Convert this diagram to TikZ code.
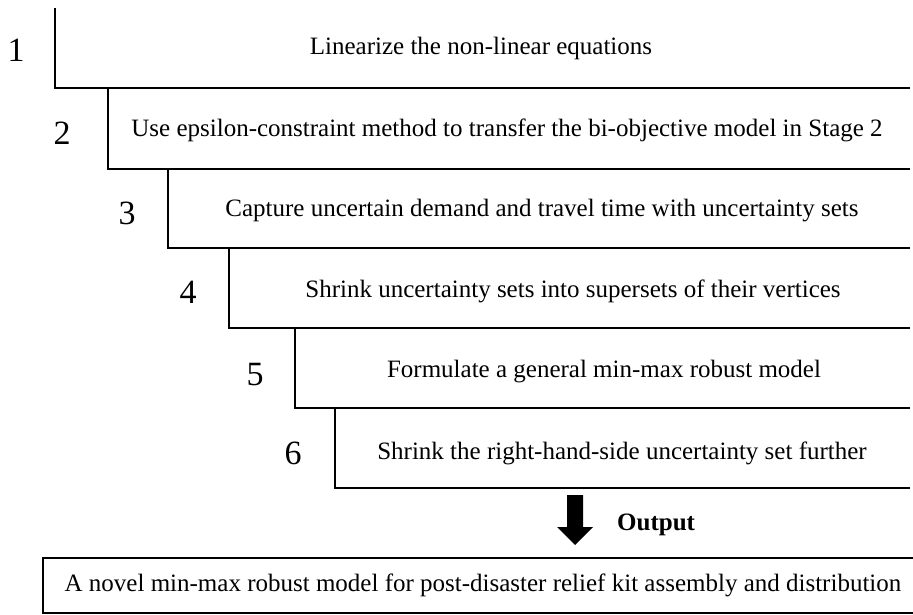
\documentclass[tikz,border=0pt]{standalone}
\usepackage{fontspec}
\setmainfont{Liberation Serif}
\begin{document}
\begin{tikzpicture}[x=1pt,y=-1pt,
  stair/.style={line width=2.6pt, line join=miter, line cap=butt},
  steptext/.style={font=\fontsize{25}{30}\selectfont, inner sep=0pt, anchor=center},
  stepnum/.style={font=\fontsize{34}{40}\selectfont, inner sep=0pt, anchor=center},
  outlabel/.style={font=\fontsize{25}{30}\selectfont\bfseries, inner sep=0pt, anchor=west}]
\useasboundingbox (0,0) rectangle (913,615);
% stair corners
\coordinate (t1) at (55,8);
\coordinate (c1) at (55,88);    \coordinate (e1) at (910,88);
\coordinate (t2) at (108,88);   \coordinate (c2) at (108,169);  \coordinate (e2) at (910,169);
\coordinate (t3) at (168,169);  \coordinate (c3) at (168,248);  \coordinate (e3) at (910,248);
\coordinate (t4) at (229,248);  \coordinate (c4) at (229,328);  \coordinate (e4) at (910,328);
\coordinate (t5) at (295,328);  \coordinate (c5) at (295,408);  \coordinate (e5) at (910,408);
\coordinate (t6) at (335,408);  \coordinate (c6) at (335,488);  \coordinate (e6) at (910,488);
\foreach \i in {1,...,6} {\draw[stair] (t\i) -- (c\i) -- (e\i);}
% step numbers
\node[stepnum] (n1) at (16,50) {1};
\node[stepnum] (n2) at (62,133) {2};
\node[stepnum] (n3) at (127,213) {3};
\node[stepnum] (n4) at (188,292) {4};
\node[stepnum] (n5) at (255,375) {5};
\node[stepnum] (n6) at (293,453) {6};
% step texts
\node[steptext] (s1) at (481,48) {Linearize the non-linear equations};
\node[steptext] (s2) at (507,130) {Use epsilon-constraint method to transfer the bi-objective model in Stage 2};
\node[steptext] (s3) at (542,211) {Capture uncertain demand and travel time with uncertainty sets};
\node[steptext] (s4) at (573,291) {Shrink uncertainty sets into supersets of their vertices};
\node[steptext] (s5) at (604,372) {Formulate a general min-max robust model};
\node[steptext] (s6) at (622,453) {Shrink the right-hand-side uncertainty set further};
% output arrow
\fill (567,495) -- (583,495) -- (583,527) -- (593,527) -- (575,545) -- (557,527) -- (567,527) -- cycle;
\node[outlabel] (out) at (617,525) {Output};
% final box
\coordinate (b1) at (915,558); \coordinate (b2) at (43,558);
\coordinate (b3) at (43,613);  \coordinate (b4) at (915,613);
\draw[stair] (b1) -- (b2) -- (b3) -- (b4);
\node[steptext] (res) at (483,585) {A novel min-max robust model for post-disaster relief kit assembly and distribution};
\end{tikzpicture}
\end{document}
